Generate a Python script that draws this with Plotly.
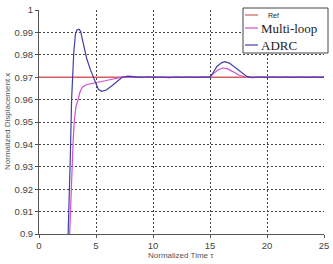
import plotly.graph_objects as go

# ---- data ----
ref_t = [0, 25]
ref_x = [0.97, 0.97]

ml_t = [2.65, 2.75, 2.85, 3.0, 3.1, 3.25, 3.45, 3.6, 3.8, 4.1, 4.6, 5.2, 5.8, 6.4, 6.9, 7.3, 7.8, 8.5, 9.5,
        10.5, 11.5, 12.5, 13.5, 14.5, 15.0, 15.3, 15.7, 16.1, 16.5, 17.0, 17.5, 18.0, 18.5, 19.5, 21, 23, 25]
ml_x = [0.895, 0.91, 0.925, 0.942, 0.951, 0.957, 0.9605, 0.9635, 0.9655, 0.9665, 0.9672, 0.9677, 0.9684,
        0.9691, 0.9697, 0.9700, 0.9701, 0.9700, 0.9700, 0.9700, 0.9700, 0.9700, 0.9700, 0.9700, 0.9700,
        0.9716, 0.9732, 0.9741, 0.9738, 0.9725, 0.9710, 0.9702, 0.9700, 0.9700, 0.9700, 0.9700, 0.9700]

adrc_t = [2.5, 2.6, 2.75, 2.86, 2.95, 3.05, 3.2, 3.35, 3.5, 3.65, 3.8, 4.0, 4.2, 4.5, 4.77, 5.0, 5.2, 5.5,
          5.9, 6.4, 6.9, 7.3, 7.8, 8.4, 9.0, 9.6, 10.2, 10.8, 11.4, 12.0, 12.6, 13.2, 13.8, 14.4, 15.0,
          15.3, 15.6, 16.0, 16.3, 16.7, 17.2, 17.7, 18.2, 18.7, 19.3, 19.9, 20.5, 21.1, 21.7, 22.3, 22.9,
          23.5, 24.1, 24.7, 25.0]
adrc_x = [0.89, 0.905, 0.935, 0.96, 0.972, 0.981, 0.9895, 0.9912, 0.9914, 0.9905, 0.987, 0.9825, 0.978,
          0.9735, 0.9700, 0.9665, 0.9646, 0.9637, 0.9643, 0.9662, 0.9684, 0.9700, 0.9705, 0.9703, 0.9699,
          0.9702, 0.9699, 0.9701, 0.9698, 0.9701, 0.9699, 0.9701, 0.9699, 0.9701, 0.9700,
          0.9722, 0.9748, 0.9764, 0.9769, 0.9763, 0.9744, 0.9722, 0.9704, 0.9698, 0.9701, 0.9699, 0.9701,
          0.9699, 0.9701, 0.9699, 0.9701, 0.9699, 0.9701, 0.9699, 0.9700]

x_ticks = [0, 5, 10, 15, 20, 25]
y_ticks = [0.9, 0.91, 0.92, 0.93, 0.94, 0.95, 0.96, 0.97, 0.98, 0.99, 1]
y_tick_labels = ["0.9", "0.91", "0.92", "0.93", "0.94", "0.95", "0.96", "0.97", "0.98", "0.99", "1"]

names = ["Ref", "Multi-loop", "ADRC"]
colors = ["#d06060", "#d050d0", "#4040a8"]

fig = go.Figure()
fig.add_trace(go.Scatter(x=ref_t, y=ref_x, mode="lines", line=dict(color=colors[0], width=1.5), name=names[0]))
fig.add_trace(go.Scatter(x=ml_t, y=ml_x, mode="lines", line=dict(color=colors[1], width=1.2), name=names[1]))
fig.add_trace(go.Scatter(x=adrc_t, y=adrc_x, mode="lines", line=dict(color=colors[2], width=1.2), name=names[2]))

axis_common = dict(
    showline=True, linecolor="#555", linewidth=1,
    showgrid=True, gridcolor="#444", griddash="2px,2px", gridwidth=1,
    ticks="outside", ticklen=3, tickcolor="#555",
    tickfont=dict(family="Liberation Sans, Arial", size=9.5, color="#444"),
    zeroline=False, mirror=False, automargin=False,
)

fig.update_layout(
    width=333, height=264,
    margin=dict(l=39, r=9, t=10, b=30),
    paper_bgcolor="white", plot_bgcolor="white",
    showlegend=False,
    xaxis=dict(range=[0, 25], tickvals=x_ticks, **axis_common),
    yaxis=dict(range=[0.9, 1], tickvals=y_ticks, ticktext=y_tick_labels, **axis_common),
)

def px2paper_x(p):
    return (p - 39) / 285.0

def px2paper_y(p):
    return (234 - p) / 224.0

title_font = dict(family="Liberation Sans, Arial", size=8, color="#555")
fig.add_annotation(xref="paper", yref="paper", x=px2paper_x(181), y=px2paper_y(255),
                   text="Normalized Time τ", showarrow=False, xanchor="center", yanchor="middle", font=title_font)
fig.add_annotation(xref="paper", yref="paper", x=px2paper_x(7), y=px2paper_y(122),
                   text="Normalized Displacement x", showarrow=False, textangle=-90,
                   xanchor="center", yanchor="middle", font=title_font)

# manual legend box
fig.add_shape(type="rect", xref="paper", yref="paper",
              x0=px2paper_x(243), x1=px2paper_x(328), y0=px2paper_y(53), y1=px2paper_y(8),
              line=dict(color="#444", width=1), fillcolor="white", layer="above")
legend_rows = [15, 28, 45]
legend_fonts = [dict(family="Liberation Sans, Arial", size=7, color="#222"),
                dict(family="Liberation Serif, Times New Roman", size=13, color="#222"),
                dict(family="Liberation Serif, Times New Roman", size=13, color="#222")]
legend_text_x = [266, 259, 259]
for i in range(3):
    yy = px2paper_y(legend_rows[i])
    fig.add_shape(type="line", xref="paper", yref="paper",
                  x0=px2paper_x(245), x1=px2paper_x(258), y0=yy, y1=yy,
                  line=dict(color=colors[i], width=1.2), layer="above")
    fig.add_annotation(xref="paper", yref="paper", x=px2paper_x(legend_text_x[i]), y=yy,
                       text=names[i], showarrow=False, xanchor="left", yanchor="middle",
                       font=legend_fonts[i])

fig.write_html("out.html", config={"displayModeBar": False},
               post_script="document.body.style.margin='0';document.body.style.overflow='hidden';")
